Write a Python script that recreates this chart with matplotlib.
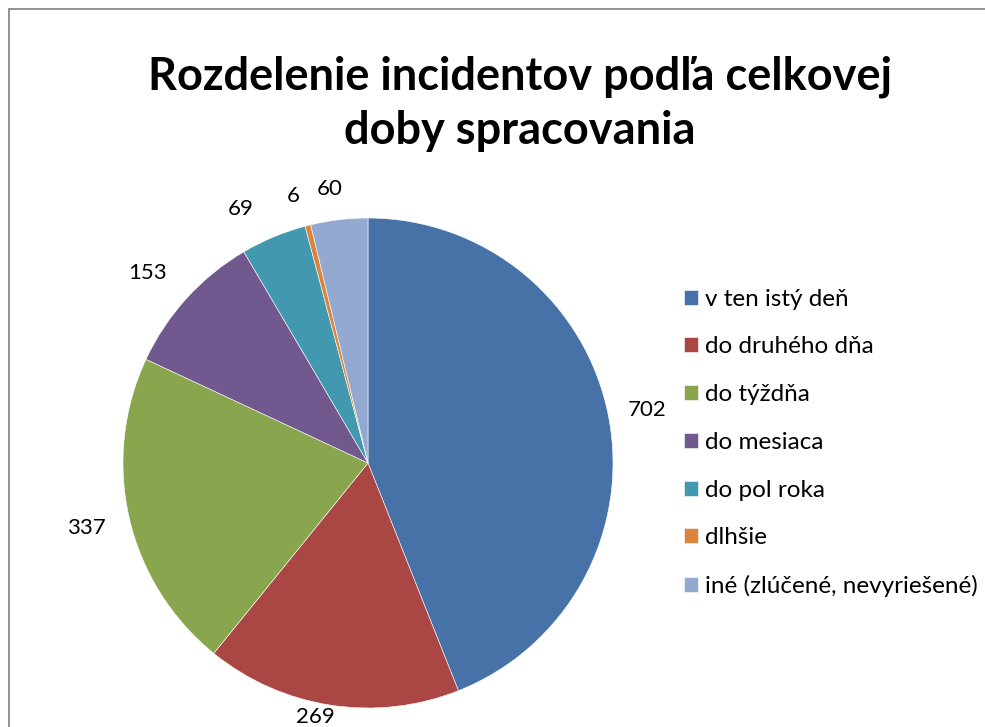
import numpy as np
import matplotlib
matplotlib.use("Agg")
import matplotlib.pyplot as plt
from matplotlib.patches import Rectangle

# data
categories = ["v ten istý deň", "do druhého dňa", "do týždňa", "do mesiaca",
              "do pol roka", "dlhšie", "iné (zlúčené, nevyriešené)"]
counts = [702, 269, 337, 153, 69, 6, 60]
colors = ["#4672A8", "#AA4744", "#89A54E", "#71588F", "#4298AF", "#DB843D", "#93A9D0"]
title_lines = ["Rozdelenie incidentov podľa celkovej", "doby spracovania"]

plt.rcParams['font.family'] = ['Lato', 'DejaVu Sans']

W, H = 985, 727
fig = plt.figure(figsize=(W / 100, H / 100), dpi=100)

# outer chart frame (cut off at right/bottom)
fig.patches.append(Rectangle((8.5 / W, -0.1), 1.2, (H - 8.5) / H + 0.1,
                             transform=fig.transFigure, fill=False,
                             edgecolor="#8a8a8a", linewidth=1.3))

# pie axes: centre (368, 463) px, radius 245 px
cx, cy, r = 368, H - 463, 245
ax = fig.add_axes([(cx - r) / W, (cy - r) / H, 2 * r / W, 2 * r / H])
wedges, _ = ax.pie(counts, colors=colors, startangle=90, counterclock=False,
                   radius=1, wedgeprops=dict(edgecolor="white", linewidth=0.4))
ax.set_xlim(-1, 1)
ax.set_ylim(-1, 1)
ax.set_aspect("equal")
ax.axis("off")

# data labels outside the slices
label_r = [1.16, 1.06, 1.18, 1.19, 1.16, 1.13, 1.13]
label_shift = [0, -3, 0, 1.5, 4, 1.5, 1.2]
for w, v, lr, sh in zip(wedges, counts, label_r, label_shift):
    ang = np.deg2rad((w.theta1 + w.theta2) / 2 + sh)
    ax.text(lr * np.cos(ang), lr * np.sin(ang), str(v), ha="center", va="center",
            fontsize=16, color="black")

# title, two lines placed on their baselines
for line, base in zip(title_lines, [89, 144]):
    fig.text(520 / W, 1 - base / H, line, ha="center", va="baseline",
             fontsize=32.5, fontweight="bold")

leg = fig.legend(wedges, categories, loc="upper left",
                 bbox_to_anchor=(674 / W, 1 - 279 / H), frameon=False,
                 fontsize=17.5, handlelength=0.58, handleheight=0.58,
                 handletextpad=0.3, labelspacing=1.1, borderaxespad=0)

fig.savefig("out.png", dpi=100)
